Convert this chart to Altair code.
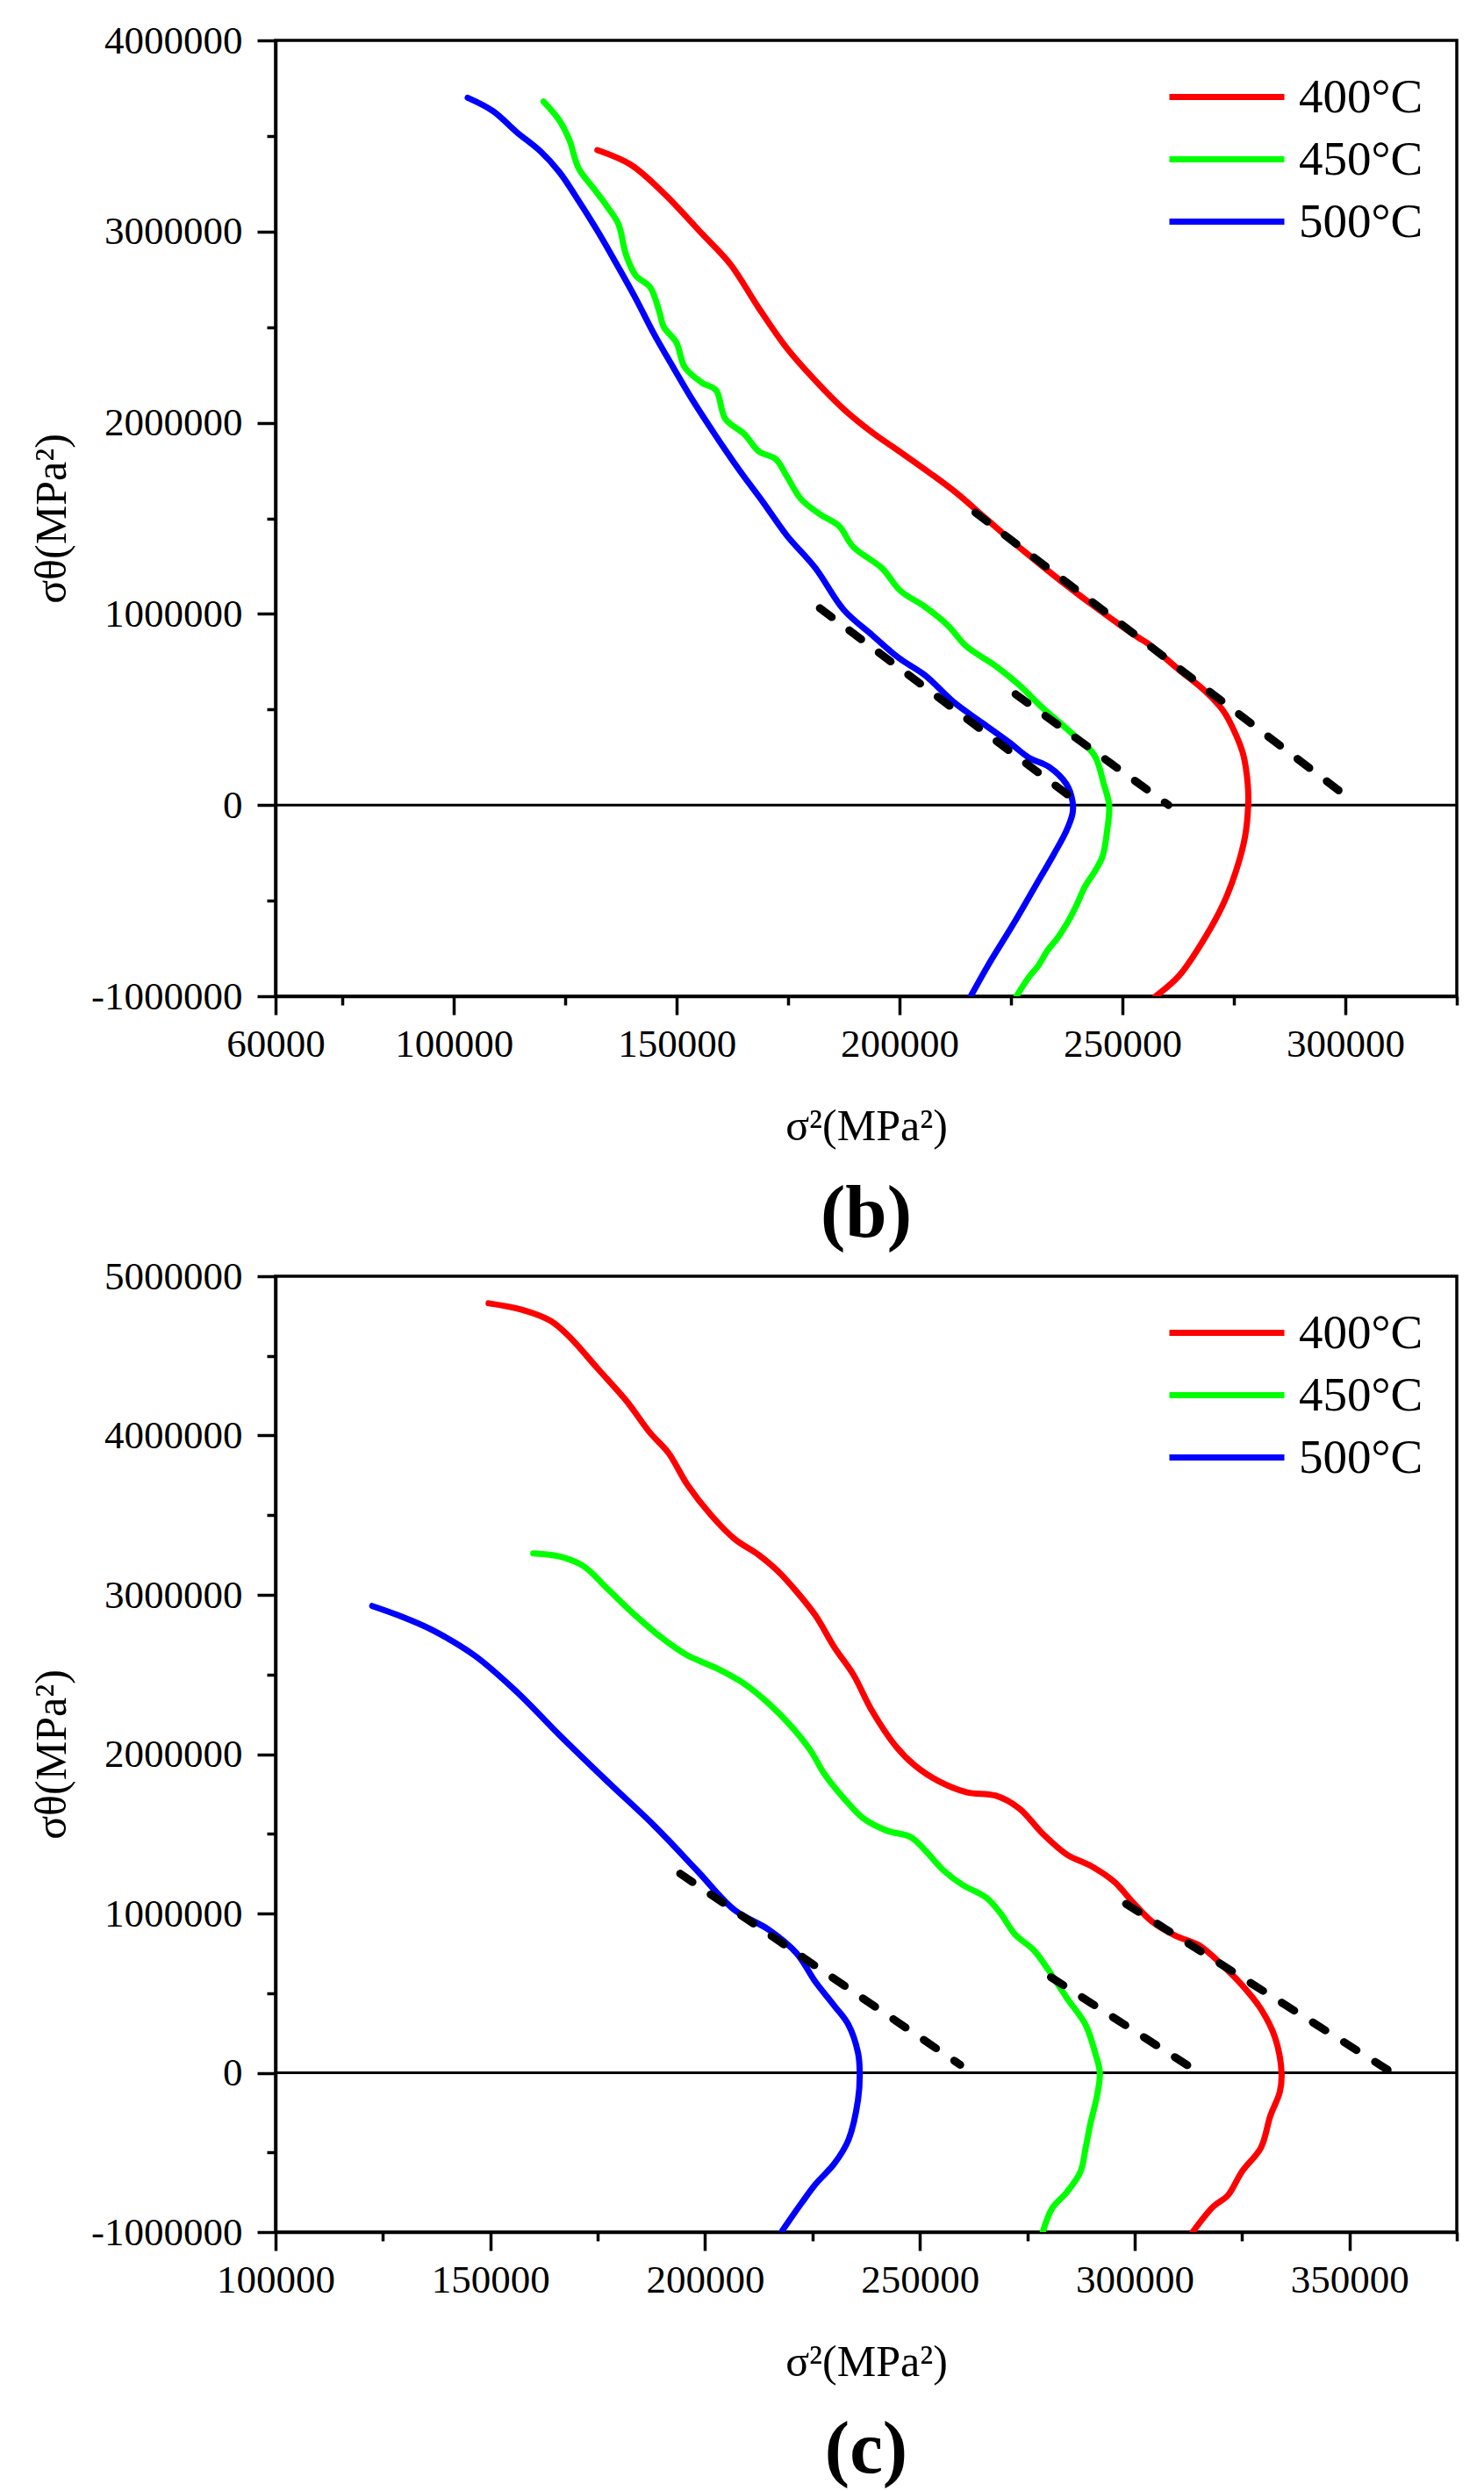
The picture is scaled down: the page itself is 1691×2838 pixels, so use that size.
import altair as alt
import pandas as pd

TEMPS = ["400°C", "450°C", "500°C"]
COLORS = ["#FF0000", "#00FF00", "#0000FF"]

# ---------------- panel (b) ----------------
b_red_x = [132200, 139650, 147100, 155600, 162000, 168400, 174700, 181100, 187500, 193800,
           200200, 206600, 212900, 219300, 227800, 236300, 244800, 253300, 255700, 262700,
           268350, 272600, 275400, 277100, 278100, 278200, 277500, 275400, 272600, 268350,
           262700, 257450]
b_red_y = [3426000, 3350000, 3200000, 2990000, 2830000, 2600000, 2390000, 2220000, 2070000, 1950000,
           1846000, 1740000, 1630000, 1500000, 1330000, 1170000, 1020000, 880000, 845000, 707000,
           600000, 493000, 370000, 263000, 110000, 0, -165000, -350000, -518000, -700000,
           -893000, -1000000]

b_green_x = [120100, 123700, 125900, 128000, 131200, 134400, 136900, 138600, 140800, 144000,
             146100, 147100, 149900, 151800, 155600, 158800, 160900, 165200, 168400, 172200,
             174700, 177900, 182200, 186400, 189600, 196000, 200200, 205500, 210800, 215000,
             221400, 226700, 232000, 238400, 243700, 245800, 247000, 246550, 245500, 243700,
             241600, 239500, 237400, 235300, 233200, 231100, 229000, 226200]
b_green_y = [3680000, 3580000, 3480000, 3330000, 3230000, 3130000, 3040000, 2880000, 2770000, 2710000,
             2580000, 2500000, 2420000, 2290000, 2210000, 2170000, 2020000, 1940000, 1850000, 1810000,
             1720000, 1600000, 1520000, 1460000, 1350000, 1240000, 1120000, 1040000, 940000, 830000,
             730000, 630000, 510000, 380000, 260000, 110000, 0, -135000, -270000, -350000,
             -426000, -533000, -625000, -700000, -760000, -840000, -900000, -1000000]

b_blue_x = [103100, 108800, 114100, 119400, 123700, 128000, 132300, 136500, 140800, 145000,
            149200, 153500, 158800, 164100, 169500, 174700, 181100, 187500, 193800, 199800,
            205800, 212100, 218400, 224750, 229000, 233500, 237400, 238800, 238800, 237400,
            234600, 230400, 225450, 219800, 215960]
b_blue_y = [3700000, 3630000, 3520000, 3420000, 3310000, 3160000, 3000000, 2830000, 2650000, 2460000,
            2290000, 2120000, 1930000, 1750000, 1580000, 1410000, 1240000, 1020000, 890000, 770000,
            677000, 539000, 432000, 325000, 248000, 200000, 110000, 18000, -43000, -135000,
            -257000, -426000, -625000, -840000, -1000000]

b_fit_x = {"400°C": [217000, 300000], "450°C": [226000, 260300], "500°C": [182100, 240800]}
b_fit_y = {"400°C": [1530000, 50000], "450°C": [580000, 0], "500°C": [1030000, 0]}

# ---------------- panel (c) ----------------
c_red_x = [149600, 157300, 164000, 168400, 175000, 181600, 187100, 191500, 195900, 201400,
           206900, 212500, 216900, 221300, 225700, 230100, 234500, 238900, 244400, 248800,
           254400, 261000, 267600, 273100, 278600, 284200, 289700, 295200, 299600, 304000,
           309500, 315000, 320600, 325000, 329400, 332700, 334200, 333800, 331600, 329400,
           325000, 321700, 318300, 313500]
c_red_y = [4830000, 4790000, 4720000, 4620000, 4420000, 4220000, 4020000, 3890000, 3690000, 3500000,
           3350000, 3250000, 3150000, 3020000, 2870000, 2670000, 2500000, 2270000, 2050000, 1930000,
           1830000, 1760000, 1740000, 1660000, 1500000, 1370000, 1300000, 1200000, 1070000, 950000,
           860000, 800000, 670000, 550000, 400000, 220000, 0, -120000, -270000, -470000,
           -620000, -770000, -840000, -1000000]

c_green_x = [160000, 166200, 171700, 177200, 183800, 190400, 195900, 202600, 209200, 214700,
             220200, 224600, 227900, 232400, 236700, 242300, 247800, 251100, 255500, 259900,
             265400, 268800, 272100, 276500, 279800, 284200, 288600, 290800, 291900, 291200,
             289700, 288600, 287400, 284200, 280800, 278600]
c_green_y = [3260000, 3240000, 3180000, 3040000, 2870000, 2720000, 2620000, 2540000, 2440000, 2320000,
             2170000, 2020000, 1870000, 1720000, 1600000, 1520000, 1480000, 1400000, 1270000, 1180000,
             1100000, 1000000, 870000, 770000, 650000, 470000, 300000, 125000, 0, -150000,
             -320000, -470000, -620000, -750000, -850000, -1000000]

c_blue_x = [122500, 128700, 136400, 146300, 156200, 166100, 177200, 188200, 198100, 206900,
            214700, 221300, 225700, 230100, 233400, 235600, 236000, 235600, 233400, 230100,
            225700, 222400, 218000]
c_blue_y = [2930000, 2870000, 2780000, 2620000, 2390000, 2120000, 1830000, 1550000, 1270000, 1020000,
            900000, 750000, 570000, 420000, 300000, 125000, 0, -170000, -420000, -570000,
            -700000, -820000, -990000]

c_fit_x = {"400°C": [298000, 359100], "450°C": [280500, 315000], "500°C": [194200, 259400]}
c_fit_y = {"400°C": [1060000, 15000], "450°C": [600000, 0], "500°C": [1250000, 50000]}

# ---------------- axes ----------------
b_x_domain = [60000, 325000]
b_x_major = [60000, 100000, 150000, 200000, 250000, 300000]
b_x_minor = [75000, 125000, 175000, 225000, 275000, 325000]
b_y_domain = [-1000000, 4000000]
b_y_major = [-1000000, 0, 1000000, 2000000, 3000000, 4000000]
b_y_minor = [-500000, 500000, 1500000, 2500000, 3500000]

c_x_domain = [100000, 375000]
c_x_major = [100000, 150000, 200000, 250000, 300000, 350000]
c_x_minor = [125000, 175000, 225000, 275000, 325000, 375000]
c_y_domain = [-1000000, 5000000]
c_y_major = [-1000000, 0, 1000000, 2000000, 3000000, 4000000, 5000000]
c_y_minor = [-500000, 500000, 1500000, 2500000, 3500000, 4500000]

FONT = "Times New Roman, Liberation Serif, serif"
W, H = 1346, 1089


def curves_df(xs, ys):
    rows = []
    for t, x, y in zip(TEMPS, xs, ys):
        for i, (a, b) in enumerate(zip(x, y)):
            rows.append({"T": t, "x": a, "y": b, "i": i})
    return pd.DataFrame(rows)


def fits_df(fx, fy):
    rows = []
    for t in TEMPS:
        for i, (a, b) in enumerate(zip(fx[t], fy[t])):
            rows.append({"T": t, "x": a, "y": b, "i": i})
    return pd.DataFrame(rows)


LABEL_EXPR = "datum.value < 0 ? '-' + format(-datum.value, 'd') : format(datum.value, 'd')"


def panel(cdf, fdf, xdom, xmaj, xmin, ydom, ymaj, ymin, label):
    xs = alt.Scale(domain=xdom, nice=False, zero=False)
    ys = alt.Scale(domain=ydom, nice=False, zero=False)
    xaxis = alt.Axis(values=xmaj, title="σ²(MPa²)", format="d", labelPadding=11,
                     titlePadding=46, labelFlush=False, labelOverlap=False, grid=False)
    yaxis = alt.Axis(values=ymaj, title="σθ(MPa²)", labelExpr=LABEL_EXPR, labelPadding=17,
                     titlePadding=30, labelOverlap=False, grid=False)
    X = alt.X("x:Q", scale=xs, axis=xaxis)
    Y = alt.Y("y:Q", scale=ys, axis=yaxis)

    zero = alt.Chart(pd.DataFrame({"y": [0]})).mark_rule(color="black", strokeWidth=3).encode(
        y=alt.Y("y:Q", scale=ys, axis=yaxis))
    lines = alt.Chart(cdf).mark_line(strokeWidth=7, strokeJoin="round", strokeCap="round",
                                     interpolate="catmull-rom", clip=True).encode(
        x=X, y=Y,
        color=alt.Color("T:N", scale=alt.Scale(domain=TEMPS, range=COLORS),
                        legend=alt.Legend(title=None, orient="none", legendX=1015, legendY=37,
                                          symbolType="stroke", symbolSize=17161,
                                          symbolStrokeWidth=7, labelFont=FONT, labelFontSize=55,
                                          labelColor="black", labelOffset=13, rowPadding=15,
                                          clipHeight=55)),
        order="i:Q")
    fits = alt.Chart(fdf).mark_line(color="black", strokeWidth=9, strokeDash=[17, 25],
                                    strokeCap="round").encode(
        x=X, y=Y, detail="T:N", order="i:Q")
    inner = alt.layer(zero, lines, fits)

    minor = alt.Chart(pd.DataFrame({"x": [xdom[0]], "y": [ydom[0]]})).mark_point(opacity=0).encode(
        x=alt.X("x:Q", scale=alt.Scale(domain=xdom, nice=False, zero=False),
                axis=alt.Axis(values=xmin, labels=False, tickSize=10, domain=False, title=None,
                              orient="bottom", grid=False)),
        y=alt.Y("y:Q", scale=alt.Scale(domain=ydom, nice=False, zero=False),
                axis=alt.Axis(values=ymin, labels=False, tickSize=10, domain=False, title=None,
                              orient="left", grid=False)))
    return alt.layer(inner, minor).resolve_scale(x="independent", y="independent").properties(
        width=W, height=H,
        title=alt.TitleParams(label, orient="bottom", font=FONT, fontSize=85, fontWeight="bold",
                              color="black", offset=34, anchor="middle"))


top = panel(curves_df([b_red_x, b_green_x, b_blue_x], [b_red_y, b_green_y, b_blue_y]),
            fits_df(b_fit_x, b_fit_y), b_x_domain, b_x_major, b_x_minor,
            b_y_domain, b_y_major, b_y_minor, "(b)")
bottom = panel(curves_df([c_red_x, c_green_x, c_blue_x], [c_red_y, c_green_y, c_blue_y]),
               fits_df(c_fit_x, c_fit_y), c_x_domain, c_x_major, c_x_minor,
               c_y_domain, c_y_major, c_y_minor, "(c)")

chart = alt.vconcat(top, bottom, spacing=2).resolve_scale(color="independent").properties(
    padding={"left": 24, "top": 14, "right": 5, "bottom": 5}, background="white"
).configure_view(stroke="black", strokeWidth=3.5).configure_axis(
    domainColor="black", domainWidth=3.5, tickColor="black", tickWidth=3.5, tickSize=21,
    labelFont=FONT, labelFontSize=45, labelColor="black", titleFont=FONT, titleFontSize=50,
    titleFontWeight="normal", titleColor="black", grid=False
)

chart.save("out.html", embed_options={"renderer": "svg", "actions": False})
